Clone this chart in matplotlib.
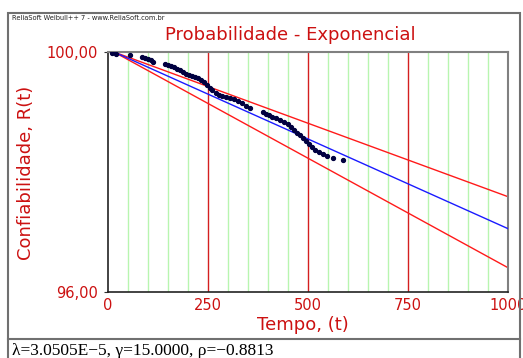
import numpy as np
import matplotlib
matplotlib.use("Agg")
import matplotlib.pyplot as plt
from matplotlib.patches import Rectangle
from matplotlib.lines import Line2D
from matplotlib.ticker import FixedLocator, FuncFormatter

# ---- data ----
t_data = [10, 20, 55, 85, 92.5, 100, 107.5, 112.5, 142.5, 150, 157.5, 165, 172.5, 180,
          187.5, 195, 202.5, 210, 217.5, 225, 232.5, 240, 247.5, 255, 260, 270, 277.5,
          285, 295, 305, 315, 325, 335, 345, 355,
          387.5, 395, 402.5, 410, 420, 430, 440, 450, 457.5, 465, 472.5, 480, 487.5,
          495, 502.5, 510, 517.5, 527.5, 537.5, 547.5, 562.5, 587.5]
R_data = [99.99, 99.97, 99.95, 99.915, 99.90, 99.88, 99.86, 99.83, 99.80, 99.78, 99.76,
          99.745, 99.71, 99.69, 99.66, 99.63, 99.61, 99.59, 99.575, 99.56, 99.525, 99.49,
          99.44, 99.39, 99.355, 99.30, 99.27,
          99.25, 99.24, 99.22, 99.20, 99.17, 99.135, 99.085, 99.05,
          98.985, 98.95, 98.93, 98.90, 98.885, 98.85, 98.815, 98.78, 98.73, 98.68, 98.63,
          98.60, 98.55, 98.50, 98.45, 98.40, 98.35, 98.31, 98.28, 98.25, 98.21, 98.18]

lam = 3.0505e-5
gamma = 15.0
lam_upper_bound = 2.4985e-5   # upper reliability bound
lam_lower_bound = 3.725e-5    # lower reliability bound

x_ticks = [0, 250, 500, 750, 1000]
x_minor = list(range(50, 1000, 50))
y_ticks = [96, 100]

title = "Probabilidade - Exponencial"
xlabel = "Tempo, (t)"
ylabel = "Confiabilidade, R(t)"
header = "ReliaSoft Weibull++ 7 - www.ReliaSoft.com.br"
footer = "λ=3.0505E−5, γ=15.0000, ρ=−0.8813"

W, H = 523, 358
RED = "#cc1111"

fig = plt.figure(figsize=(W / 100, H / 100), dpi=100)
fig.patch.set_facecolor("white")

def fx(px):
    return px / W

def fy(py):
    return 1 - py / H

ax = fig.add_axes([fx(108), fy(292), fx(508) - fx(108), fy(52) - fy(292)])
ax.set_yscale("function", functions=(lambda y: np.log(np.clip(y, 1e-9, None) / 100.0),
                                     lambda v: 100.0 * np.exp(v)))
ax.set_xlim(0, 1000)
ax.set_ylim(96, 100)

# grid lines
for xm in x_minor:
    if xm % 250 == 0:
        ax.axvline(xm, color="#d42020", lw=1.0, zorder=1)
    else:
        ax.axvline(xm, color="#b8f5b0", lw=1.0, zorder=1)

tt = np.linspace(gamma, 1000, 200)
ax.plot(tt, 100 * np.exp(-lam_upper_bound * (tt - gamma)), color="#ff1a1a", lw=1.0, zorder=2)
ax.plot(tt, 100 * np.exp(-lam_lower_bound * (tt - gamma)), color="#ff1a1a", lw=1.0, zorder=2)
ax.plot(tt, 100 * np.exp(-lam * (tt - gamma)), color="#1a1aff", lw=1.0, zorder=3)

ax.plot(t_data, R_data, linestyle="none", marker="o", markersize=2.8,
        markerfacecolor="#000040", markeredgecolor="#000040", zorder=4)

ax.xaxis.set_major_locator(FixedLocator(x_ticks))
ax.yaxis.set_major_locator(FixedLocator(y_ticks))
ax.yaxis.set_minor_locator(FixedLocator([]))
ax.xaxis.set_major_formatter(FuncFormatter(lambda v, p: f"{int(v)}"))
ax.yaxis.set_major_formatter(FuncFormatter(lambda v, p: f"{v:.2f}".replace(".", ",")))
ax.tick_params(axis="x", length=0, labelsize=10.5, labelcolor=RED, pad=4)
ax.tick_params(axis="y", length=3, labelsize=10.5, labelcolor=RED, pad=4, color="#333333")

for side in ("top", "right"):
    ax.spines[side].set_color("#808080")
    ax.spines[side].set_linewidth(1.5)
for side in ("left", "bottom"):
    ax.spines[side].set_color("#222222")
    ax.spines[side].set_linewidth(1.2)

fig.text(fx(290), fy(35), title, color=RED, fontsize=13, ha="center", va="center",
         family="DejaVu Sans")
fig.text(fx(303), fy(325), xlabel, color=RED, fontsize=13, ha="center", va="center",
         family="DejaVu Sans")
fig.text(fx(26), fy(173), ylabel, color=RED, fontsize=13, ha="center", va="center",
         rotation=90, family="DejaVu Sans")
fig.text(fx(12), fy(18.5), header, color="#222222", fontsize=4.8, ha="left", va="center",
         family="DejaVu Sans")
fig.text(fx(12), fy(355), footer, color="black", fontsize=12.5, ha="left", va="baseline",
         family="Liberation Serif")

# outer frame
fig.add_artist(Rectangle((fx(8), fy(365)), fx(520) - fx(8), fy(13) - fy(365),
                         transform=fig.transFigure, fill=False, edgecolor="#707070", lw=1.5))
fig.add_artist(Line2D([fx(8), fx(520)], [fy(339), fy(339)], transform=fig.transFigure,
                      color="#707070", lw=1.5))

fig.savefig("out.png", dpi=100)
